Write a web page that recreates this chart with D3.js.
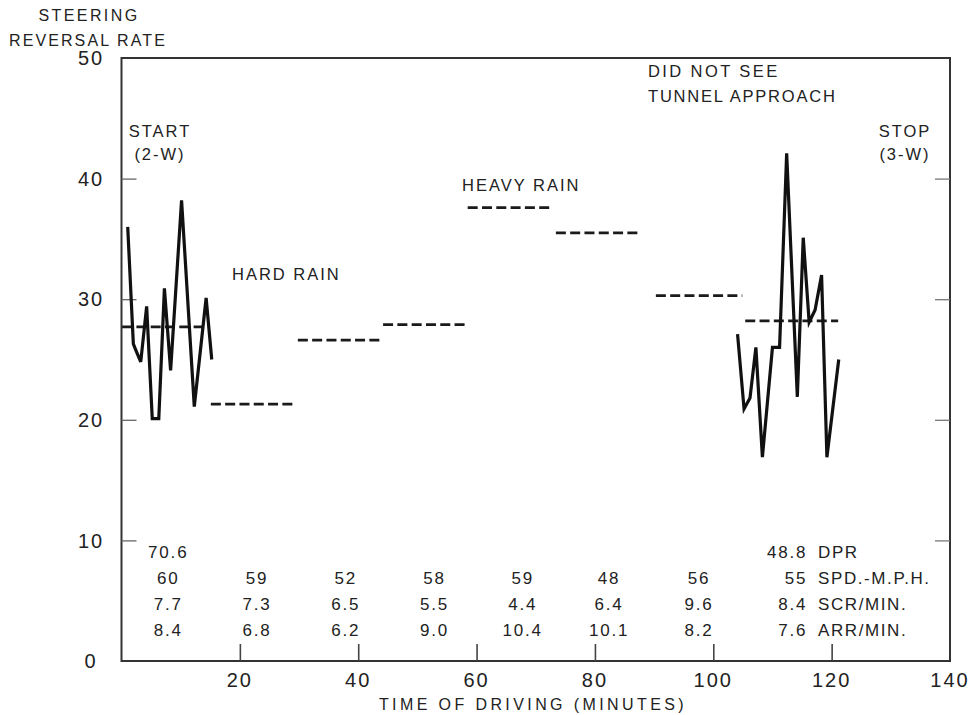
<!DOCTYPE html>
<html>
<head>
<meta charset="utf-8">
<script src="https://cdn.jsdelivr.net/npm/d3@7"></script>
<style>
  body { margin: 0; background: #fff; }
  svg text { font-family: "Liberation Sans", Arial, sans-serif; fill: #222; }
</style>
</head>
<body>
<div id="chart"></div>
<script>
// steering reversal samples, start and end of the drive (minutes, rate)
var startRun = [
  [1.05, 36.0], [2.0, 26.3], [2.4, 25.8], [3.25, 24.8], [4.25, 29.4],
  [5.2, 20.1], [6.3, 20.1], [7.25, 30.9], [8.3, 24.1], [10.15, 38.2],
  [12.3, 21.1], [14.3, 30.1], [15.25, 25.0]
];
var stopRun = [
  [104.1, 27.1], [105.2, 20.9], [106.2, 21.8], [107.2, 26.0], [108.3, 16.9],
  [110.0, 26.0], [111.2, 26.0], [112.4, 42.1], [114.2, 21.9], [115.2, 35.1],
  [116.2, 28.1], [117.2, 29.1], [118.3, 32.0], [119.2, 16.9], [121.2, 25.0]
];

// interval means (dashed lines)
var meanStart = [0.1, 15.1, 29.8, 44.2, 58.5, 73.4, 90.3, 105.4];
var meanEnd   = [14.95, 29.5, 44.0, 58.2, 72.7, 87.6, 104.9, 121.1];
var meanValue = [27.7, 21.3, 26.6, 27.9, 37.6, 35.5, 30.3, 28.2];

// table under the curves
var colMinute = [7.9, 22.9, 37.9, 52.9, 67.8, 82.4, 97.6, 113.5];
var dprRow = ["70.6", "", "", "", "", "", "", "48.8"];
var spdRow = ["60", "59", "52", "58", "59", "48", "56", "55"];
var scrRow = ["7.7", "7.3", "6.5", "5.5", "4.4", "6.4", "9.6", "8.4"];
var arrRow = ["8.4", "6.8", "6.2", "9.0", "10.4", "10.1", "8.2", "7.6"];
var rowLabels = ["DPR", "SPD.-M.P.H.", "SCR/MIN.", "ARR/MIN."];

var xTicks = [20, 40, 60, 80, 100, 120];
var xTickLabels = [20, 40, 60, 80, 100, 120, 140];
var yTicks = [10, 20, 30, 40];
var yTickLabels = [0, 10, 20, 30, 40, 50];

var W = 979, H = 715;
var svg = d3.select("#chart").append("svg")
  .attr("width", W).attr("height", H);

var x = d3.scaleLinear().domain([0, 140]).range([121.5, 950]);
var y = d3.scaleLinear().domain([0, 50]).range([661, 58]);

// frame
svg.append("rect")
  .attr("x", x(0)).attr("y", y(50))
  .attr("width", x(140) - x(0)).attr("height", y(0) - y(50))
  .attr("fill", "none").attr("stroke", "#333").attr("stroke-width", 2);

// inward ticks
svg.append("g").attr("transform", "translate(0," + y(0) + ")")
  .call(d3.axisTop(x).tickValues(xTicks).tickSize(17).tickFormat(""))
  .call(function(g) { g.select(".domain").remove(); })
  .selectAll("line").attr("stroke", "#444").attr("stroke-width", 1.6);
svg.append("g").attr("transform", "translate(" + x(0) + ",0)")
  .call(d3.axisRight(y).tickValues(yTicks).tickSize(15).tickFormat(""))
  .call(function(g) { g.select(".domain").remove(); })
  .selectAll("line").attr("stroke", "#666").attr("stroke-width", 1.3);
svg.append("g").attr("transform", "translate(" + x(140) + ",0)")
  .call(d3.axisLeft(y).tickValues(yTicks).tickSize(15).tickFormat(""))
  .call(function(g) { g.select(".domain").remove(); })
  .selectAll("line").attr("stroke", "#777").attr("stroke-width", 1.3);

// tick labels
svg.append("g").selectAll("text").data(xTickLabels).enter().append("text")
  .attr("x", function(d) { return x(d); })
  .attr("y", 687)
  .attr("text-anchor", "middle")
  .style("font-size", "20px")
  .style("letter-spacing", "2px")
  .text(function(d) { return d; });
svg.append("g").selectAll("text").data(yTickLabels).enter().append("text")
  .attr("x", 91)
  .attr("y", function(d) { return y(d); })
  .attr("dy", "0.36em")
  .attr("text-anchor", "middle")
  .style("font-size", "20px")
  .style("letter-spacing", "2px")
  .text(function(d) { return d; });

// axis titles
svg.append("text").attr("x", 89).attr("y", 21).attr("text-anchor", "middle")
  .style("font-size", "16px").style("letter-spacing", "2.4px").text("STEERING");
svg.append("text").attr("x", 88).attr("y", 46).attr("text-anchor", "middle")
  .style("font-size", "16px").style("letter-spacing", "2.1px").text("REVERSAL RATE");
svg.append("text").attr("x", 533).attr("y", 710).attr("text-anchor", "middle")
  .style("font-size", "16px").style("letter-spacing", "3.4px").text("TIME OF DRIVING (MINUTES)");

// dashed interval means
svg.append("g").selectAll("line").data(meanValue).enter().append("line")
  .attr("x1", function(d, i) { return x(meanStart[i]); })
  .attr("x2", function(d, i) { return x(meanEnd[i]); })
  .attr("y1", function(d) { return y(d); })
  .attr("y2", function(d) { return y(d); })
  .attr("stroke", "#1a1a1a").attr("stroke-width", 2.8)
  .attr("stroke-dasharray", "10,4.3");

// steering reversal lines
var line = d3.line().x(function(d) { return x(d[0]); }).y(function(d) { return y(d[1]); });
[startRun, stopRun].forEach(function(run) {
  svg.append("path").datum(run)
    .attr("d", line)
    .attr("fill", "none").attr("stroke", "#111")
    .attr("stroke-width", 3.2).attr("stroke-linejoin", "miter");
});

// annotations
function note(txt, px, py, anchor, ls) {
  svg.append("text").attr("x", px).attr("y", py)
    .attr("text-anchor", anchor || "start")
    .style("font-size", "16.5px").style("letter-spacing", (ls || 2) + "px")
    .text(txt);
}
note("START", 160, 137, "middle");
note("(2-W)", 160, 160, "middle");
note("HARD RAIN", 232, 280, "start");
note("HEAVY RAIN", 462, 191, "start");
note("DID NOT SEE", 648, 77, "start", 2.4);
note("TUNNEL APPROACH", 648, 102, "start", 1.8);
note("STOP", 905, 137, "middle");
note("(3-W)", 905, 160, "middle");

// table
var rows = [dprRow, spdRow, scrRow, arrRow];
var rowBase = [558, 584, 610, 636];
rows.forEach(function(row, r) {
  svg.append("g").selectAll("text").data(row).enter().append("text")
    .attr("x", function(d, i) { return i === row.length - 1 ? x(colMinute[i]) + 14 : x(colMinute[i]); })
    .attr("y", rowBase[r])
    .attr("text-anchor", function(d, i) { return i === row.length - 1 ? "end" : "middle"; })
    .style("font-size", "17px").style("letter-spacing", "1.8px")
    .text(function(d) { return d; });
  svg.append("text").attr("x", 818).attr("y", rowBase[r])
    .style("font-size", "17px").style("letter-spacing", "1.6px")
    .text(rowLabels[r]);
});
</script>
</body>
</html>
